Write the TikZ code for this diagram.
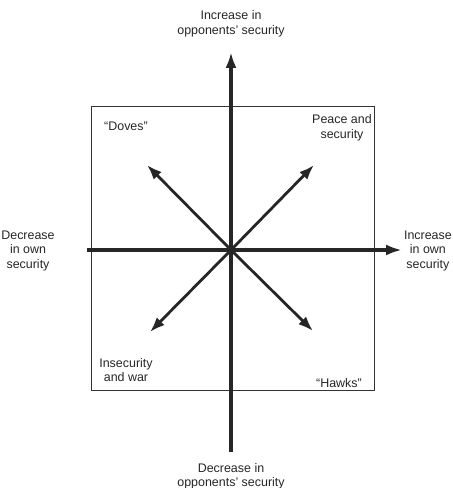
\documentclass[tikz,border=0pt]{standalone}
\usepackage{fontspec}
\setmainfont{Liberation Sans}
\usetikzlibrary{arrows.meta}
\begin{document}
\begin{tikzpicture}[x=1bp,y=-1bp,
  lbl/.style={font=\fontsize{12.5}{14.5}\selectfont,align=center,inner sep=0pt,text=black!85},
  axis/.style={line width=3.2bp,black!85,-{Latex[length=16bp,width=11bp]}},
  diag/.style={line width=2.8bp,black!85,-{Latex[length=15bp,width=11bp]}},
  frame/.style={line width=1bp,black!80}]
\useasboundingbox (0,0) rectangle (453,488);
\coordinate (c) at (231,250);
\coordinate (top) at (231,52);
\coordinate (bot) at (231,452);
\coordinate (lft) at (87,250);
\coordinate (rgt) at (402,250);
\coordinate (nw) at (147,165);
\coordinate (ne) at (314,165);
\coordinate (sw) at (150,332);
\coordinate (se) at (313,331);
\draw[frame] (91,107) rectangle (374,390);
\draw[axis] (bot) -- (top);
\draw[axis] (lft) -- (rgt);
\draw[diag] (c) -- (nw);
\draw[diag] (c) -- (ne);
\draw[diag] (c) -- (sw);
\draw[diag] (c) -- (se);
\node[lbl] (tlab) at (231,24) {Increase in\\opponents' security};
\node[lbl] (blab) at (231,476) {Decrease in\\opponents' security};
\node[lbl] (llab) at (28,251) {Decrease\\in own\\security};
\node[lbl,anchor=east] (rlab) at (452,251) {Increase\\in own\\security};
\node[lbl,anchor=west] (doves) at (104,126) {``Doves''};
\node[lbl] (peace) at (342,128) {Peace and\\security};
\node[lbl] (insec) at (126,370) {Insecurity\\and war};
\node[lbl,anchor=east] (hawks) at (362,383) {``Hawks''};
\end{tikzpicture}
\end{document}
